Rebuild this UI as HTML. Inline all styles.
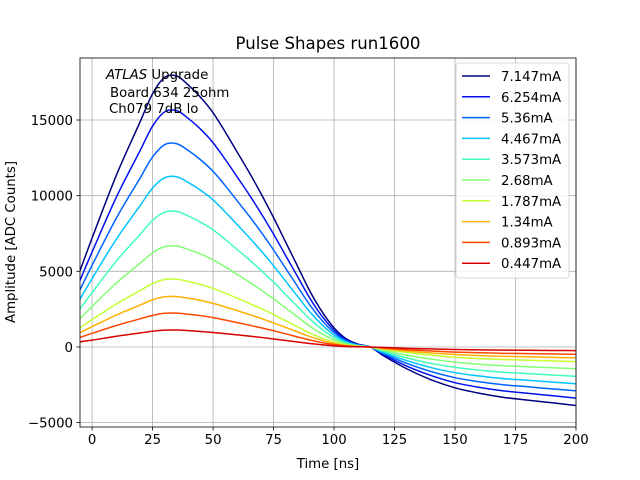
<!DOCTYPE html>
<html><head><meta charset="utf-8"><style>
body{margin:0;background:#fff}
svg{display:block;font-family:"DejaVu Sans","Liberation Sans",sans-serif}
</style></head><body>
<svg id="chart" width="640" height="480" viewBox="0 0 640 480"></svg>
<script>
const times=[-5,0,10,20,25,30,35,40,45,50,55,60,65,70,75,80,85,90,95,100,105,110,115,120,130,140,150,160,170,180,190,200];
const labels=["7.147mA","6.254mA","5.36mA","4.467mA","3.573mA","2.68mA","1.787mA","1.34mA","0.893mA","0.447mA"];
const colors=["#00007f","#0010ee","#0064ff","#00c4ff","#40ffb8","#82ff74","#c4ff33","#ffb000","#ff4800","#d80000"];
const s0=[5040,7200,11340,14940,16740,17820,17910,17280,16470,15480,14220,12870,11520,10080,8550,6930,5310,3690,2340,1260,540,180,0,-540,-1440,-2160,-2700,-3060,-3330,-3510,-3690,-3870];
const s1=[4400,6280,9890,13030,14600,15540,15620,15070,14370,13500,12400,11230,10050,8790,7460,6040,4630,3220,2040,1100,470,160,0,-470,-1260,-1880,-2360,-2670,-2900,-3060,-3220,-3380];
const s2=[3780,5400,8510,11210,12560,13370,13430,12960,12350,11610,10670,9650,8640,7560,6410,5200,3980,2770,1760,950,410,140,0,-405,-1080,-1620,-2030,-2300,-2500,-2630,-2770,-2900];
const s3=[3160,4520,7120,9380,10510,11190,11240,10850,10340,9720,8930,8080,7230,6330,5370,4350,3330,2320,1470,790,340,110,0,-340,-900,-1360,-1700,-1920,-2090,-2200,-2320,-2430];
const s4=[2520,3600,5670,7470,8370,8910,8960,8640,8240,7740,7110,6440,5760,5040,4280,3470,2660,1850,1170,630,270,90,0,-270,-720,-1080,-1350,-1530,-1670,-1760,-1850,-1940];
const s5=[1880,2680,4220,5560,6230,6630,6670,6430,6130,5760,5290,4790,4290,3750,3180,2580,1980,1370,870,470,200,70,0,-200,-540,-800,-1000,-1140,-1240,-1310,-1370,-1440];
const s6=[1260,1800,2840,3740,4190,4460,4480,4320,4120,3870,3560,3220,2880,2520,2140,1730,1330,920,590,320,140,50,0,-140,-360,-540,-680,-770,-830,-880,-920,-970];
const s7=[940,1340,2110,2780,3120,3320,3330,3220,3070,2880,2650,2400,2140,1880,1590,1290,990,690,440,230,100,30,0,-100,-270,-400,-500,-570,-620,-650,-690,-720];
const s8=[630,900,1420,1870,2090,2230,2240,2160,2060,1940,1780,1610,1440,1260,1070,870,660,460,290,160,70,20,0,-70,-180,-270,-340,-380,-420,-440,-460,-480];
const s9=[340,450,710,930,1040,1110,1120,1080,1020,960,880,800,720,630,530,430,330,230,150,80,30,10,0,-30,-90,-130,-170,-190,-210,-220,-230,-240];
const series=[s0,s1,s2,s3,s4,s5,s6,s7,s8,s9];
const xTicks=[0,25,50,75,100,125,150,175,200];
const yTicks=[-5000,0,5000,10000,15000];

const L=80,R=576,T=58,B=427,xmin=-5,xmax=200,ymin=-5290,ymax=19100;
const X=v=>L+(v-xmin)/(xmax-xmin)*(R-L);
const Y=v=>B-(v-ymin)/(ymax-ymin)*(B-T);
const svg=document.getElementById('chart');
const NS='http://www.w3.org/2000/svg';
function mk(tag,attrs,parent){const e=document.createElementNS(NS,tag);for(const k in attrs)e.setAttribute(k,attrs[k]);(parent||svg).appendChild(e);return e;}

xTicks.forEach(t=>{
  const g=mk('line',{x1:X(t),x2:X(t),y1:T,y2:B,stroke:'#b0b0b0','stroke-width':0.8});
  
  
  mk('line',{x1:X(t),x2:X(t),y1:B,y2:B+3.5,stroke:'#000','stroke-width':0.8});
  const tx=mk('text',{x:X(t),y:B+17,'font-size':13.3,'text-anchor':'middle',fill:'#000'});
  tx.textContent=t;
  
  
});
yTicks.forEach(t=>{
  const g=mk('line',{x1:L,x2:R,y1:Y(t),y2:Y(t),stroke:'#b0b0b0','stroke-width':0.8});
  
  
  mk('line',{x1:L-3.5,x2:L,y1:Y(t),y2:Y(t),stroke:'#000','stroke-width':0.8});
  const tx=mk('text',{x:L-7,y:Y(t)+5,'font-size':13.3,'text-anchor':'end',fill:'#000'});
  tx.textContent=t===-5000?'\u22125000':t;
  
  
});

const clip=mk('clipPath',{id:'c'});mk('rect',{x:L,y:T,width:R-L,height:B-T},clip);
function pathFor(vals){
  const p=times.map((t,i)=>[X(t),Y(vals[i])]);
  const n=p.length;
  const m=p.map((q,i)=>{
    const a=p[Math.max(0,i-1)],b=p[Math.min(n-1,i+1)];
    return (b[1]-a[1])/(b[0]-a[0]);
  });
  let d='M'+p[0][0]+','+p[0][1];
  for(let i=0;i<n-1;i++){
    const dx=(p[i+1][0]-p[i][0])/3;
    d+=` C${p[i][0]+dx},${p[i][1]+m[i]*dx} ${p[i+1][0]-dx},${p[i+1][1]-m[i+1]*dx} ${p[i+1][0]},${p[i+1][1]}`;
  }
  return d;
}
series.forEach((s,i)=>{
  const p=mk('path',{d:pathFor(s),fill:'none',stroke:colors[i],'stroke-width':1.5,'clip-path':'url(#c)'});
  
  
});

const fr=mk('rect',{x:L,y:T,width:R-L,height:B-T,fill:'none',stroke:'#000','stroke-width':0.8});



const lg=mk('g',{});


mk('rect',{x:456,y:63,width:113,height:215,rx:3,fill:'#fff','fill-opacity':0.8,stroke:'#cccccc','stroke-width':0.8},lg);
labels.forEach((lab,i)=>{
  const y=76+i*20.8;
  const e=mk('g',{},lg);
  
  
  mk('line',{x1:462,x2:490,y1:y,y2:y,stroke:colors[i],'stroke-width':1.5},e);
  const t=mk('text',{x:501,y:y+5,'font-size':13.3,fill:'#000'},e);t.textContent=lab;
});
</script>
<svg style="position:absolute;left:0;top:0" width="640" height="480">
<text x="328" y="49" font-size="16.6" text-anchor="middle" font-family="DejaVu Sans, sans-serif">Pulse Shapes run1600</text>
<text x="328" y="468" font-size="13.3" text-anchor="middle" font-family="DejaVu Sans, sans-serif">Time [ns]</text>
<text x="0" y="0" font-size="13.3" text-anchor="middle" font-family="DejaVu Sans, sans-serif" transform="translate(15,242) rotate(-90)">Amplitude [ADC Counts]</text>
<g font-size="13.3" font-family="DejaVu Sans, sans-serif">
<text x="106" y="79"><tspan font-style="italic">ATLAS</tspan> Upgrade</text>
<text x="110" y="97">Board 634 25ohm</text>
<text x="109" y="113">Ch079 7dB lo</text>
</g>
</svg>
</body></html>
